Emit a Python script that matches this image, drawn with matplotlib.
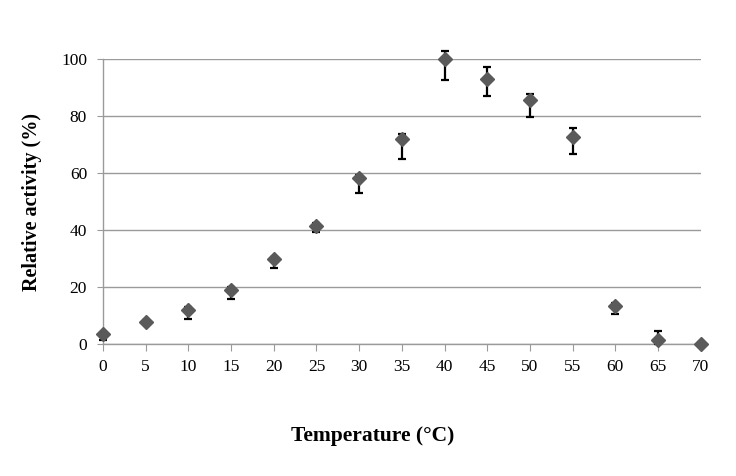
import matplotlib
matplotlib.use('Agg')
from matplotlib import pyplot as plt
import numpy as np

temperature = [0, 5, 10, 15, 20, 25, 30, 35, 40, 45, 50, 55, 60, 65, 70]
activity = [3.5, 7.8, 11.9, 18.9, 29.7, 41.5, 58.1, 71.8, 99.9, 93.1, 85.8, 72.7, 13.3, 1.4, 0.0]
err_low = [2.1, 0.5, 3.0, 3.0, 2.9, 2.1, 5.0, 7.0, 7.2, 6.0, 6.0, 5.9, 2.9, 1.4, 0.0]
err_up = [0.5, 0.5, 1.0, 1.0, 0.9, 1.1, 1.3, 2.0, 2.9, 4.1, 2.0, 3.1, 1.2, 3.2, 0.0]

plt.rcParams['font.family'] = ['Liberation Serif', 'DejaVu Serif']

fig = plt.figure(figsize=(7.36, 4.76), dpi=100)
ax = fig.add_axes([0.14, 0.277, 0.812, 0.599])

ax.errorbar(temperature, activity, yerr=[err_low, err_up], fmt='none',
            ecolor='black', elinewidth=1.6, capsize=3.2, capthick=1.6,
            clip_on=False, zorder=3)
ax.plot(temperature, activity, 'D', color='#5a5a5a', markersize=7,
        clip_on=False, zorder=4)

ax.set_xlim(0, 70)
ax.set_ylim(0, 100)
ax.set_xticks(np.arange(0, 71, 5))
ax.set_yticks(np.arange(0, 101, 20))
ax.yaxis.grid(True, color='#9a9a9a', linewidth=1.0)
ax.set_axisbelow(True)

for side in ['top', 'right']:
    ax.spines[side].set_visible(False)
for side in ['left', 'bottom']:
    ax.spines[side].set_color('#9a9a9a')
    ax.spines[side].set_linewidth(1.0)

ax.tick_params(axis='x', direction='out', length=5, color='#9a9a9a',
               labelsize=12.5, pad=6)
ax.tick_params(axis='y', direction='out', length=4.5, color='#9a9a9a',
               labelsize=12.5, pad=7)

ax.set_xlabel('Temperature (\u00b0C)', fontsize=15.5, fontweight='bold')
ax.xaxis.set_label_coords(0.452, -0.323)
ax.xaxis.label.set_va('center')
ax.set_ylabel('Relative activity (%)', fontsize=14.5, fontweight='bold', labelpad=14)

fig.savefig('out.png', dpi=100)
